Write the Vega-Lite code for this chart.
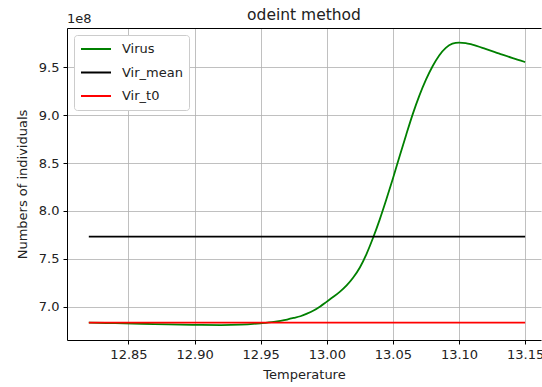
{
  "$schema": "https://vega.github.io/schema/vega-lite/v6.json",
  "autosize": "none",
  "width": 474,
  "height": 312,
  "padding": {"left": 67, "top": 28, "right": 1, "bottom": 47},
  "background": "white",
  "config": {
    "font": "DejaVu Sans",
    "view": {"stroke": null},
    "axis": {
      "domainColor": "black",
      "domainWidth": 1,
      "tickColor": "black",
      "tickSize": 4,
      "labelFontSize": 13,
      "labelColor": "#222222",
      "titleFontSize": 13,
      "titleFontWeight": "normal",
      "titleColor": "#222222",
      "gridColor": "#b0b0b0",
      "gridWidth": 0.8
    }
  },
  "title": {"text": "odeint method", "fontSize": 15.5, "fontWeight": "normal", "font": "DejaVu Sans", "color": "#222222", "offset": 6, "dy": 16},
  "datasets": {
    "lines": [
      {"t": 12.82, "v": 6.833, "series": "Virus"},
      {"t": 12.84, "v": 6.828, "series": "Virus"},
      {"t": 12.86, "v": 6.822, "series": "Virus"},
      {"t": 12.88, "v": 6.815, "series": "Virus"},
      {"t": 12.90, "v": 6.810, "series": "Virus"},
      {"t": 12.92, "v": 6.808, "series": "Virus"},
      {"t": 12.935, "v": 6.812, "series": "Virus"},
      {"t": 12.95, "v": 6.827, "series": "Virus"},
      {"t": 12.96, "v": 6.842, "series": "Virus"},
      {"t": 12.965, "v": 6.853, "series": "Virus"},
      {"t": 12.97, "v": 6.866, "series": "Virus"},
      {"t": 12.975, "v": 6.882, "series": "Virus"},
      {"t": 12.98, "v": 6.90, "series": "Virus"},
      {"t": 12.985, "v": 6.927, "series": "Virus"},
      {"t": 12.99, "v": 6.96, "series": "Virus"},
      {"t": 12.995, "v": 7.003, "series": "Virus"},
      {"t": 13.00, "v": 7.053, "series": "Virus"},
      {"t": 13.005, "v": 7.103, "series": "Virus"},
      {"t": 13.01, "v": 7.158, "series": "Virus"},
      {"t": 13.015, "v": 7.223, "series": "Virus"},
      {"t": 13.02, "v": 7.305, "series": "Virus"},
      {"t": 13.025, "v": 7.41, "series": "Virus"},
      {"t": 13.03, "v": 7.55, "series": "Virus"},
      {"t": 13.035, "v": 7.72, "series": "Virus"},
      {"t": 13.04, "v": 7.91, "series": "Virus"},
      {"t": 13.045, "v": 8.12, "series": "Virus"},
      {"t": 13.05, "v": 8.34, "series": "Virus"},
      {"t": 13.055, "v": 8.57, "series": "Virus"},
      {"t": 13.06, "v": 8.795, "series": "Virus"},
      {"t": 13.065, "v": 9.012, "series": "Virus"},
      {"t": 13.07, "v": 9.205, "series": "Virus"},
      {"t": 13.075, "v": 9.372, "series": "Virus"},
      {"t": 13.08, "v": 9.512, "series": "Virus"},
      {"t": 13.085, "v": 9.625, "series": "Virus"},
      {"t": 13.09, "v": 9.705, "series": "Virus"},
      {"t": 13.095, "v": 9.748, "series": "Virus"},
      {"t": 13.10, "v": 9.760, "series": "Virus"},
      {"t": 13.105, "v": 9.755, "series": "Virus"},
      {"t": 13.11, "v": 9.738, "series": "Virus"},
      {"t": 13.12, "v": 9.694, "series": "Virus"},
      {"t": 13.13, "v": 9.647, "series": "Virus"},
      {"t": 13.14, "v": 9.60, "series": "Virus"},
      {"t": 13.15, "v": 9.556, "series": "Virus"},
      {"t": 12.82, "v": 7.732, "series": "Vir_mean"},
      {"t": 13.15, "v": 7.732, "series": "Vir_mean"},
      {"t": 12.82, "v": 6.833, "series": "Vir_t0"},
      {"t": 13.15, "v": 6.833, "series": "Vir_t0"}
    ],
    "note": [{"label": "1e8"}]
  },
  "layer": [
    {
      "data": {"name": "lines"},
      "mark": {"type": "line", "strokeWidth": 1.8, "interpolate": "monotone", "clip": true},
      "encoding": {
        "x": {
          "field": "t", "type": "quantitative",
          "scale": {"domain": [12.8035, 13.162], "nice": false, "zero": false},
          "axis": {"title": "Temperature", "values": [12.85, 12.9, 12.95, 13.0, 13.05, 13.1, 13.15], "format": ".2f", "labelPadding": 4, "titlePadding": 7, "grid": true}
        },
        "y": {
          "field": "v", "type": "quantitative",
          "scale": {"domain": [6.652, 9.912], "nice": false, "zero": false},
          "axis": {"title": "Numbers of individuals", "values": [7.0, 7.5, 8.0, 8.5, 9.0, 9.5], "format": ".1f", "labelPadding": 4, "titlePadding": 9, "grid": true}
        },
        "color": {
          "field": "series", "type": "nominal",
          "scale": {"domain": ["Virus", "Vir_mean", "Vir_t0"], "range": ["#008000", "#000000", "#ff0000"]},
          "legend": {
            "title": null,
            "orient": "top-left",
            "offset": 7,
            "symbolType": "stroke",
            "symbolSize": 900,
            "symbolStrokeWidth": 2,
            "clipHeight": 16,
            "labelFontSize": 13,
            "labelColor": "#222222",
            "labelOffset": 10,
            "rowPadding": 7.5,
            "padding": 6,
            "fillColor": "white",
            "strokeColor": "#cccccc",
            "cornerRadius": 3
          }
        },
        "order": {"field": "series", "sort": "descending"}
      }
    },
    {
      "data": {"name": "note"},
      "mark": {"type": "text", "align": "left", "baseline": "bottom", "dy": -2, "fontSize": 13, "color": "#222222", "clip": false},
      "encoding": {
        "text": {"field": "label"},
        "x": {"datum": 12.8035, "type": "quantitative", "axis": {"orient": "top", "labels": false, "ticks": false, "grid": false, "title": null, "domainColor": "black"}},
        "y": {"datum": 9.912, "type": "quantitative"}
      }
    }
  ],
  "resolve": {"axis": {"x": "independent"}}
}
